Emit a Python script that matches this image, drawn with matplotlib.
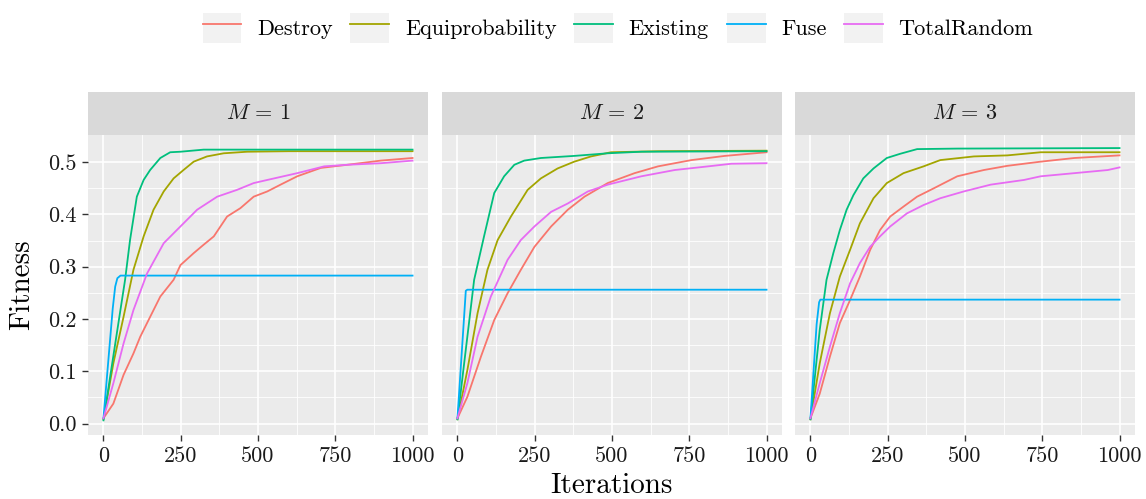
import matplotlib
matplotlib.use('Agg')
import matplotlib.pyplot as plt
from matplotlib.legend_handler import HandlerLine2D
from matplotlib.lines import Line2D
from matplotlib.patches import Rectangle

plt.rcParams['font.family'] = 'cmr10'
plt.rcParams['mathtext.fontset'] = 'cm'
plt.rcParams['axes.unicode_minus'] = False

series = ['Destroy', 'Equiprobability', 'Existing', 'Fuse', 'TotalRandom']
colors = ['#F8766D', '#A3A500', '#00BF7D', '#00B0F6', '#E76BF3']
facets = [r'$M\,=\,1$', r'$M\,=\,2$', r'$M\,=\,3$']

# ---- M = 1 ----
destroy_m1_x = [0, 32, 65, 97, 119, 151, 184, 227, 249, 292, 324, 357, 400, 443, 486, 530, 573, 627, 703, 789, 897, 1000]
destroy_m1_y = [0.010, 0.038, 0.093, 0.134, 0.166, 0.204, 0.243, 0.275, 0.303, 0.326, 0.342, 0.358, 0.396, 0.412, 0.434, 0.444, 0.457, 0.473, 0.489, 0.495, 0.503, 0.508]
equi_m1_x = [0, 32, 65, 97, 130, 162, 195, 227, 259, 292, 335, 389, 465, 600, 1000]
equi_m1_y = [0.008, 0.115, 0.204, 0.294, 0.358, 0.409, 0.444, 0.469, 0.485, 0.501, 0.511, 0.517, 0.520, 0.521, 0.521]
exist_m1_x = [0, 40, 70, 86, 108, 130, 151, 184, 216, 249, 324, 1000]
exist_m1_y = [0.006, 0.160, 0.275, 0.351, 0.434, 0.466, 0.485, 0.508, 0.519, 0.520, 0.524, 0.524]
fuse_m1_x = [0, 30, 38, 45, 55, 1000]
fuse_m1_y = [0.010, 0.220, 0.262, 0.278, 0.283, 0.283]
rand_m1_x = [0, 32, 65, 97, 141, 195, 249, 303, 368, 432, 486, 530, 627, 714, 789, 897, 1000]
rand_m1_y = [0.010, 0.077, 0.153, 0.217, 0.287, 0.345, 0.377, 0.409, 0.434, 0.447, 0.460, 0.466, 0.479, 0.492, 0.495, 0.498, 0.503]

# ---- M = 2 ----
destroy_m2_x = [0, 32, 76, 119, 162, 205, 249, 303, 357, 411, 486, 573, 649, 757, 865, 1000]
destroy_m2_y = [0.010, 0.051, 0.128, 0.198, 0.249, 0.294, 0.338, 0.377, 0.409, 0.434, 0.460, 0.479, 0.492, 0.504, 0.512, 0.519]
equi_m2_x = [0, 32, 65, 97, 130, 173, 227, 270, 324, 378, 432, 497, 650, 1000]
equi_m2_y = [0.008, 0.102, 0.211, 0.294, 0.351, 0.396, 0.447, 0.469, 0.488, 0.501, 0.511, 0.519, 0.521, 0.522]
exist_m2_x = [0, 32, 54, 86, 119, 151, 184, 216, 270, 378, 486, 595, 1000]
exist_m2_y = [0.008, 0.166, 0.275, 0.358, 0.441, 0.473, 0.495, 0.503, 0.508, 0.512, 0.517, 0.520, 0.521]
fuse_m2_x = [0, 27, 32, 1000]
fuse_m2_y = [0.010, 0.254, 0.256, 0.256]
rand_m2_x = [0, 32, 65, 108, 162, 205, 249, 303, 357, 422, 486, 595, 703, 811, 886, 1000]
rand_m2_y = [0.010, 0.077, 0.166, 0.243, 0.313, 0.351, 0.377, 0.405, 0.421, 0.444, 0.457, 0.473, 0.485, 0.492, 0.497, 0.498]

# ---- M = 3 ----
destroy_m3_x = [0, 30, 63, 95, 128, 160, 193, 225, 258, 301, 345, 399, 475, 561, 637, 745, 854, 1000]
destroy_m3_y = [0.010, 0.057, 0.128, 0.192, 0.236, 0.281, 0.332, 0.370, 0.396, 0.415, 0.434, 0.450, 0.473, 0.485, 0.493, 0.501, 0.508, 0.513]
equi_m3_x = [0, 30, 63, 95, 128, 160, 204, 247, 301, 366, 420, 529, 637, 745, 1000]
equi_m3_y = [0.008, 0.115, 0.211, 0.281, 0.332, 0.383, 0.431, 0.460, 0.479, 0.492, 0.504, 0.511, 0.513, 0.519, 0.519]
exist_m3_x = [0, 30, 52, 74, 95, 117, 139, 171, 204, 247, 290, 345, 475, 1000]
exist_m3_y = [0.008, 0.179, 0.275, 0.326, 0.370, 0.409, 0.437, 0.469, 0.488, 0.508, 0.516, 0.525, 0.526, 0.527]
fuse_m3_x = [0, 20, 28, 32, 1000]
fuse_m3_y = [0.010, 0.190, 0.232, 0.237, 0.237]
rand_m3_x = [0, 30, 63, 95, 128, 160, 193, 225, 258, 312, 366, 420, 496, 583, 691, 745, 854, 962, 1000]
rand_m3_y = [0.010, 0.077, 0.147, 0.211, 0.268, 0.307, 0.338, 0.358, 0.377, 0.402, 0.418, 0.431, 0.444, 0.457, 0.466, 0.473, 0.479, 0.485, 0.490]

panel_data = [
    [(destroy_m1_x, destroy_m1_y), (equi_m1_x, equi_m1_y), (exist_m1_x, exist_m1_y),
     (fuse_m1_x, fuse_m1_y), (rand_m1_x, rand_m1_y)],
    [(destroy_m2_x, destroy_m2_y), (equi_m2_x, equi_m2_y), (exist_m2_x, exist_m2_y),
     (fuse_m2_x, fuse_m2_y), (rand_m2_x, rand_m2_y)],
    [(destroy_m3_x, destroy_m3_y), (equi_m3_x, equi_m3_y), (exist_m3_x, exist_m3_y),
     (fuse_m3_x, fuse_m3_y), (rand_m3_x, rand_m3_y)],
]

W, H = 1146, 499
fig = plt.figure(figsize=(W / 100, H / 100), dpi=100)

lefts = [88, 442, 795]
pw = 340
ptop, pbot = 135, 435
strip_h = 43

for i, left in enumerate(lefts):
    ax = fig.add_axes([left / W, 1 - pbot / H, pw / W, (pbot - ptop) / H])
    ax.set_facecolor('#EBEBEB')
    for s in ax.spines.values():
        s.set_visible(False)
    ax.set_xlim(-50, 1050)
    ax.set_ylim(-0.022, 0.552)
    ax.set_xticks([0, 250, 500, 750, 1000])
    ax.set_xticks([125, 375, 625, 875], minor=True)
    ax.set_yticks([0.0, 0.1, 0.2, 0.3, 0.4, 0.5])
    ax.set_yticks([0.05, 0.15, 0.25, 0.35, 0.45], minor=True)
    ax.grid(True, which='major', color='white', linewidth=1.2)
    ax.grid(True, which='minor', color='white', linewidth=0.6)
    ax.set_axisbelow(True)
    ax.tick_params(which='minor', length=0)
    ax.tick_params(which='major', length=4.5, width=1.0, color='#333333',
                   labelsize=16, labelcolor='#1a1a1a', pad=3.5)
    ax.set_xticklabels(['0', '250', '500', '750', '1000'])
    if i == 0:
        ax.set_yticklabels(['0.0', '0.1', '0.2', '0.3', '0.4', '0.5'])
    else:
        ax.tick_params(axis='y', which='both', left=False, labelleft=False)
    for (xs, ys), c, name in zip(panel_data[i], colors, series):
        ax.plot(xs, ys, color=c, linewidth=1.3, label=name)

    sax = fig.add_axes([left / W, 1 - ptop / H, pw / W, strip_h / H])
    sax.set_facecolor('#D9D9D9')
    sax.set_xticks([])
    sax.set_yticks([])
    for s in sax.spines.values():
        s.set_visible(False)
    sax.text(0.5, 0.5, facets[i], ha='center', va='center', fontsize=16,
             color='#1a1a1a', transform=sax.transAxes)

fig.text(22 / W, 1 - 285 / H, 'Fitness', rotation=90, ha='center', va='center', fontsize=21)
fig.text(611 / W, 1 - 486 / H, 'Iterations', ha='center', va='center', fontsize=21)


class KeyHandler(HandlerLine2D):
    def create_artists(self, legend, orig_handle, xdescent, ydescent, width, height, fontsize, trans):
        bg = Rectangle((-xdescent, -ydescent), width, height, facecolor='#F2F2F2',
                       edgecolor='none', transform=trans)
        arts = super().create_artists(legend, orig_handle, xdescent, ydescent,
                                      width, height, fontsize, trans)
        pad = 0.08 * width
        for a in arts:
            if isinstance(a, Line2D) and len(a.get_xdata()) == 2:
                a.set_xdata([-xdescent + pad, -xdescent + width - pad])
        return [bg] + arts


handles = [Line2D([], [], color=c, linewidth=1.3) for c in colors]
fig.legend(handles, series, loc='center', bbox_to_anchor=(618 / W, 1 - 28 / H), ncol=5,
           frameon=False, fontsize=16, handlelength=1.75, handleheight=1.75,
           handletextpad=0.7, columnspacing=0.8,
           handler_map={Line2D: KeyHandler()})

fig.savefig('out.png', dpi=100)
